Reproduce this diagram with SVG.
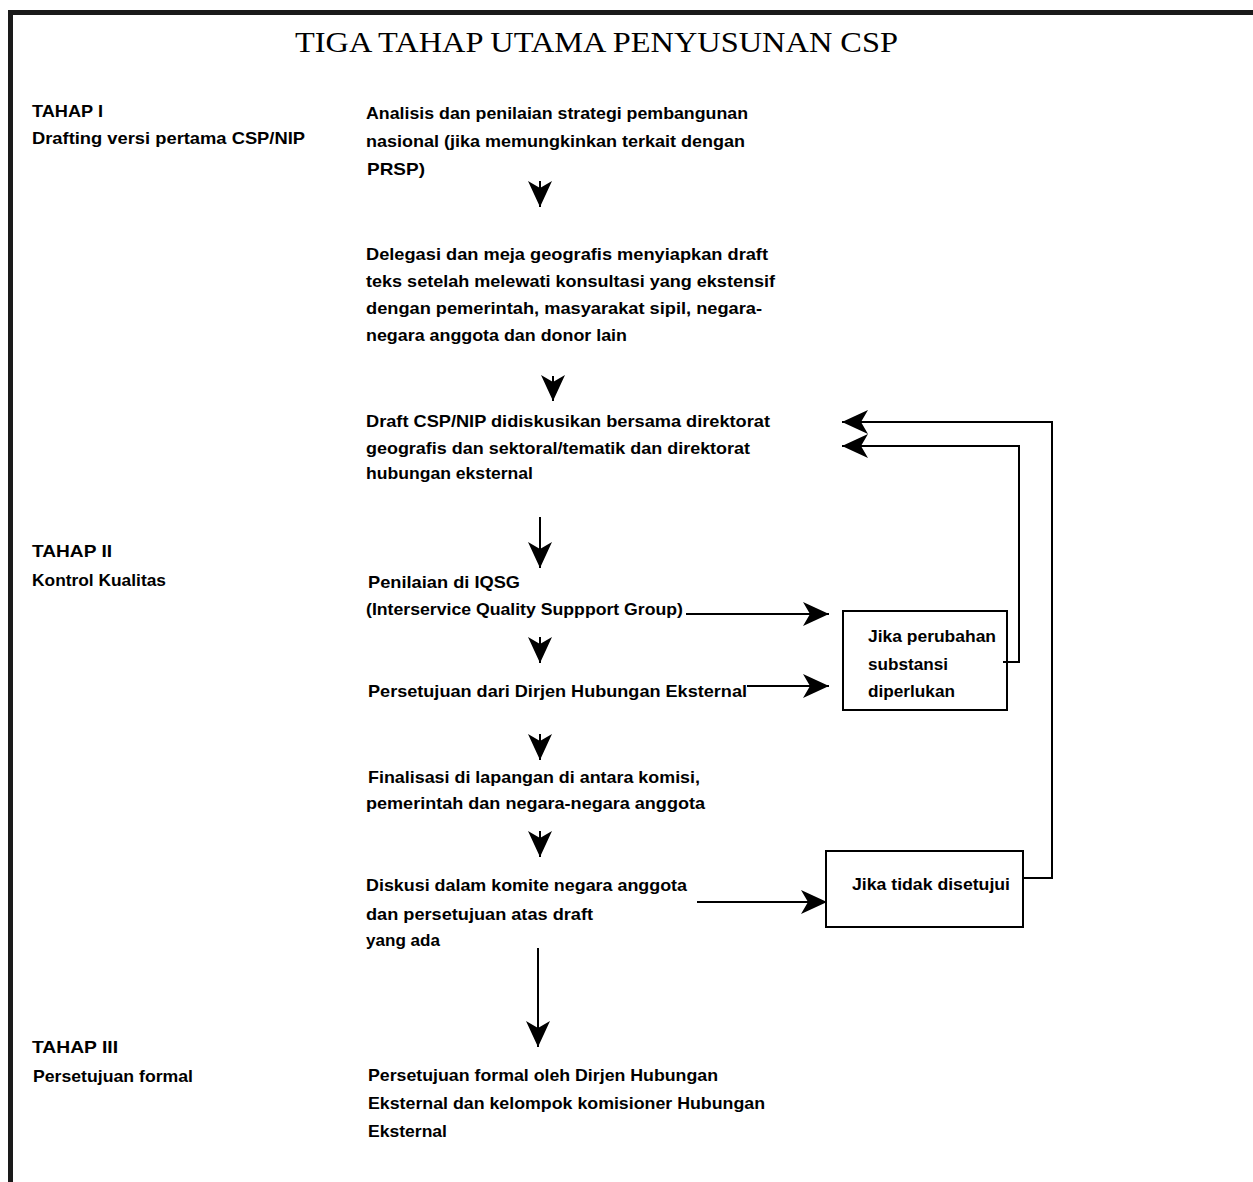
<svg xmlns="http://www.w3.org/2000/svg" width="1253" height="1182" viewBox="0 0 1253 1182">
<style>
.t{font-family:"Liberation Sans",Arial,sans-serif;font-size:17px;font-weight:bold;fill:#000}
.title{font-family:"Liberation Serif","Times New Roman",serif;font-size:30px;fill:#000}
.ln{stroke:#000;stroke-width:2;fill:none}
.box{stroke:#000;stroke-width:2;fill:#fff}
</style>
<defs>
<marker id="ah" viewBox="0 0 26 24" refX="26" refY="12" markerWidth="26" markerHeight="24" markerUnits="userSpaceOnUse" orient="auto">
<path d="M0,0 L26,12 L0,24 L7,12 Z" fill="#000"/>
</marker>
</defs>
<rect width="1253" height="1182" fill="#fff"/>
<g id="frame">
<rect x="8" y="10" width="1245" height="5" fill="#1a1a1a"/>
<rect x="8" y="10" width="5" height="1172" fill="#1a1a1a"/>
</g>
<g id="title"><text class="title" x="295" y="52" textLength="603" lengthAdjust="spacingAndGlyphs">TIGA TAHAP UTAMA PENYUSUNAN CSP</text></g>

<g id="tahap1">
<text class="t" x="32" y="117" textLength="71" lengthAdjust="spacingAndGlyphs">TAHAP I</text>
<text class="t" x="32" y="144" textLength="273" lengthAdjust="spacingAndGlyphs">Drafting versi pertama CSP/NIP</text>
</g>
<g id="tahap2">
<text class="t" x="32" y="557" textLength="80" lengthAdjust="spacingAndGlyphs">TAHAP II</text>
<text class="t" x="32" y="586" textLength="134" lengthAdjust="spacingAndGlyphs">Kontrol Kualitas</text>
</g>
<g id="tahap3">
<text class="t" x="32" y="1053" textLength="86" lengthAdjust="spacingAndGlyphs">TAHAP III</text>
<text class="t" x="33" y="1082" textLength="160" lengthAdjust="spacingAndGlyphs">Persetujuan formal</text>
</g>

<g id="step1">
<text class="t" x="366" y="119" textLength="382" lengthAdjust="spacingAndGlyphs">Analisis dan penilaian strategi pembangunan</text>
<text class="t" x="366" y="147" textLength="379" lengthAdjust="spacingAndGlyphs">nasional (jika memungkinkan terkait dengan</text>
<text class="t" x="367" y="175" textLength="58" lengthAdjust="spacingAndGlyphs">PRSP)</text>
</g>
<g id="step2">
<text class="t" x="366" y="260" textLength="402" lengthAdjust="spacingAndGlyphs">Delegasi dan meja geografis menyiapkan draft</text>
<text class="t" x="366" y="287" textLength="409" lengthAdjust="spacingAndGlyphs">teks setelah melewati konsultasi yang ekstensif</text>
<text class="t" x="366" y="314" textLength="396" lengthAdjust="spacingAndGlyphs">dengan pemerintah, masyarakat sipil, negara-</text>
<text class="t" x="366" y="341" textLength="261" lengthAdjust="spacingAndGlyphs">negara anggota dan donor lain</text>
</g>
<g id="step3">
<text class="t" x="366" y="427" textLength="404" lengthAdjust="spacingAndGlyphs">Draft CSP/NIP didiskusikan bersama direktorat</text>
<text class="t" x="366" y="454" textLength="384" lengthAdjust="spacingAndGlyphs">geografis dan sektoral/tematik dan direktorat</text>
<text class="t" x="366" y="479" textLength="167" lengthAdjust="spacingAndGlyphs">hubungan eksternal</text>
</g>
<g id="step4">
<text class="t" x="368" y="588" textLength="152" lengthAdjust="spacingAndGlyphs">Penilaian di IQSG</text>
<text class="t" x="366" y="615" textLength="317" lengthAdjust="spacingAndGlyphs">(Interservice Quality Suppport Group)</text>
</g>
<g id="step5">
<text class="t" x="368" y="697" textLength="379" lengthAdjust="spacingAndGlyphs">Persetujuan dari Dirjen Hubungan Eksternal</text>
</g>
<g id="step6">
<text class="t" x="368" y="783" textLength="332" lengthAdjust="spacingAndGlyphs">Finalisasi di lapangan di antara komisi,</text>
<text class="t" x="366" y="809" textLength="339" lengthAdjust="spacingAndGlyphs">pemerintah dan negara-negara anggota</text>
</g>
<g id="step7">
<text class="t" x="366" y="891" textLength="321" lengthAdjust="spacingAndGlyphs">Diskusi dalam komite negara anggota</text>
<text class="t" x="366" y="920" textLength="227" lengthAdjust="spacingAndGlyphs">dan persetujuan atas draft</text>
<text class="t" x="366" y="946" textLength="74" lengthAdjust="spacingAndGlyphs">yang ada</text>
</g>
<g id="step8">
<text class="t" x="368" y="1081" textLength="350" lengthAdjust="spacingAndGlyphs">Persetujuan formal oleh Dirjen Hubungan</text>
<text class="t" x="368" y="1109" textLength="397" lengthAdjust="spacingAndGlyphs">Eksternal dan kelompok komisioner Hubungan</text>
<text class="t" x="368" y="1137" textLength="79" lengthAdjust="spacingAndGlyphs">Eksternal</text>
</g>

<g id="box-perubahan">
<rect class="box" x="843" y="611" width="164" height="99"/>
<text class="t" x="868" y="642" textLength="128" lengthAdjust="spacingAndGlyphs">Jika perubahan</text>
<text class="t" x="868" y="670" textLength="80" lengthAdjust="spacingAndGlyphs">substansi</text>
<text class="t" x="868" y="697" textLength="87" lengthAdjust="spacingAndGlyphs">diperlukan</text>
</g>
<g id="box-tidak">
<rect class="box" x="826" y="851" width="197" height="76"/>
<text class="t" x="852" y="890" textLength="158" lengthAdjust="spacingAndGlyphs">Jika tidak disetujui</text>
</g>

<g id="connectors">
<path class="ln" d="M540,181 V207" marker-end="url(#ah)"/>
<path class="ln" d="M553,376 V401" marker-end="url(#ah)"/>
<path class="ln" d="M540,517 V568" marker-end="url(#ah)"/>
<path class="ln" d="M540,637 V663" marker-end="url(#ah)"/>
<path class="ln" d="M540,734 V760" marker-end="url(#ah)"/>
<path class="ln" d="M540,831 V857" marker-end="url(#ah)"/>
<path class="ln" d="M538,948 V1047" marker-end="url(#ah)"/>
<path class="ln" d="M686,614 H829" marker-end="url(#ah)"/>
<path class="ln" d="M747,686 H829" marker-end="url(#ah)"/>
<path class="ln" d="M697,902 H827" marker-end="url(#ah)"/>
<path class="ln" d="M1003,662 H1019 V446 H842" marker-end="url(#ah)"/>
<path class="ln" d="M1023,878 H1052 V422 H842" marker-end="url(#ah)"/>
</g>
</svg>
